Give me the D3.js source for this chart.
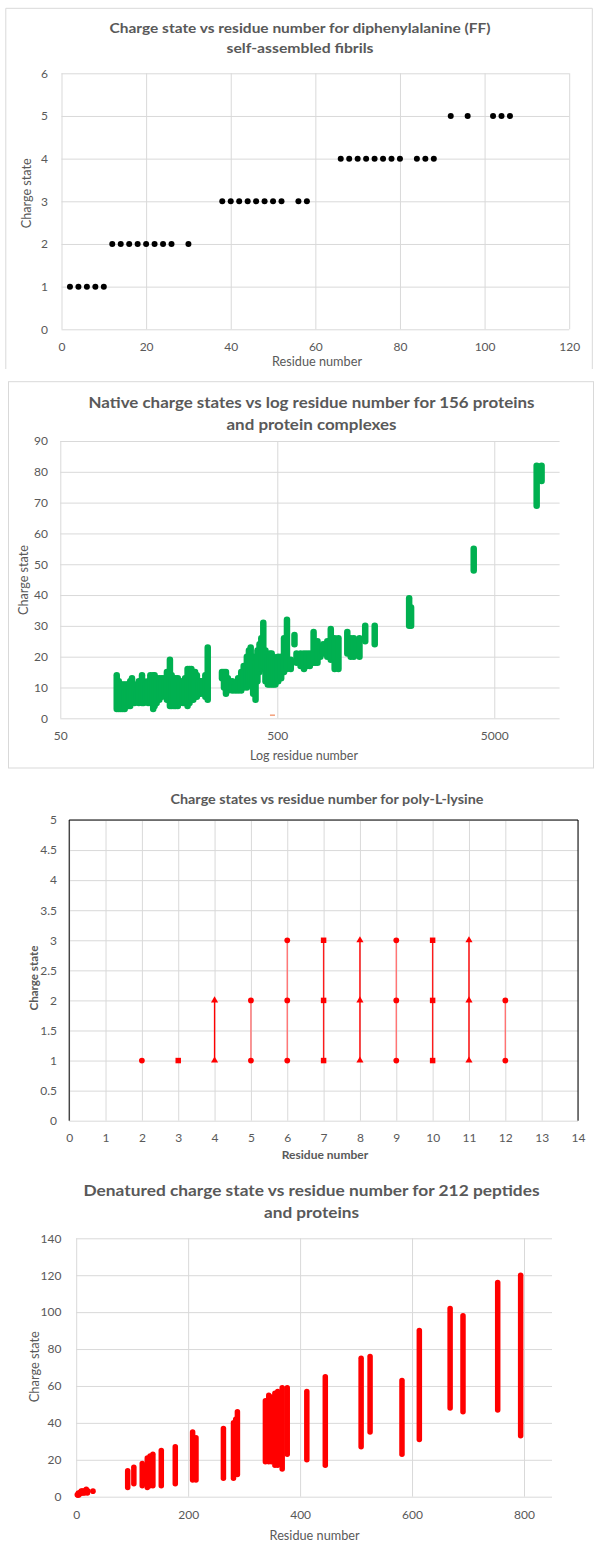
<!DOCTYPE html>
<html>
<head>
<meta charset="utf-8">
<script src="https://cdn.jsdelivr.net/npm/d3@7"></script>
<style>
  body { margin: 0; background: #fff; }
  svg { display: block; }
</style>
</head>
<body>
<svg id="chart" width="600" height="1551"></svg>
<script>
// ---- Diphenylalanine (FF) fibrils: residue number and charge state ----
const ffResidues = [2, 4, 6, 8, 10,
  12, 14, 16, 18, 20, 22, 24, 26, 30,
  38, 40, 42, 44, 46, 48, 50, 52, 56, 58,
  66, 68, 70, 72, 74, 76, 78, 80, 84, 86, 88,
  92, 96, 102, 104, 106];
const ffCharges = [1, 1, 1, 1, 1,
  2, 2, 2, 2, 2, 2, 2, 2, 2,
  3, 3, 3, 3, 3, 3, 3, 3, 3, 3,
  4, 4, 4, 4, 4, 4, 4, 4, 4, 4, 4,
  5, 5, 5, 5, 5];
const ffXTicks = [0, 20, 40, 60, 80, 100, 120];
const ffYTicks = [0, 1, 2, 3, 4, 5, 6];

// ---- Native proteins: residue number with lowest / highest observed charge ----
const natResidues = [91, 93, 95, 97, 99, 101, 103, 105, 107, 110, 112, 115, 119, 121, 124, 127,
  130, 134, 136, 139, 143, 147, 151, 155, 160, 163, 167, 170, 174, 178, 184, 188,
  193, 197, 201, 205, 209, 213, 218, 222, 227, 233, 239, 278, 284, 290, 296, 301, 310, 320,
  330, 341, 350, 362, 370, 377, 387, 397, 405, 414, 422, 431, 441, 452, 461, 471, 480,
  490, 505, 521, 537, 554, 577, 600, 613, 640, 664, 685, 706, 735, 750, 766, 790, 814, 850,
  882, 919, 957, 1051, 1090, 1126, 1196, 1271, 1406, 2026, 2068, 4020, 7840, 8260];
const natMin = [3, 3, 3, 3, 3, 4, 4, 4, 5, 5, 6, 5, 5, 5, 6, 5,
  5, 3, 4, 5, 6, 7, 8, 6, 4, 4, 4, 4, 4, 5, 5, 5,
  4, 5, 6, 6, 7, 7, 8, 8, 9, 7, 6, 13, 10, 8, 9, 10, 9, 9,
  9, 9, 10, 10, 11, 11, 8, 6, 12, 15, 16, 17, 12, 11, 11, 11, 11,
  11, 12, 13, 15, 16, 16, 24, 18, 17, 16, 17, 17, 18, 18, 18, 20, 21, 20,
  19, 16, 16, 21, 20, 20, 20, 25, 24, 30, 30, 48, 69, 77];
const natMax = [14, 12, 11, 11, 11, 11, 11, 12, 13, 11, 9, 12, 14, 12, 11, 12,
  14, 14, 14, 13, 13, 13, 13, 15, 19, 14, 12, 13, 13, 12, 12, 13,
  16, 16, 16, 15, 15, 14, 12, 12, 12, 14, 23, 15, 15, 15, 13, 12, 12, 11,
  13, 15, 17, 20, 22, 23, 20, 18, 22, 24, 26, 31, 22, 20, 21, 21, 20,
  19, 20, 20, 26, 32, 19, 27, 21, 21, 21, 21, 21, 28, 24, 25, 23, 24, 25,
  29, 26, 26, 28, 26, 26, 26, 30, 30, 39, 36, 55, 82, 82];
const natOtherResidues = [475];
const natOtherCharges = [1];
const natXTicks = [50, 500, 5000];
const natYTicks = [0, 10, 20, 30, 40, 50, 60, 70, 80, 90];

// ---- Poly-L-lysine: observed charge states for each chain length ----
const lysResidues = [2, 3, 4, 5, 6, 7, 8, 9, 10, 11, 12];
const lysCharges = [[1], [1], [1, 2], [1, 2], [1, 2, 3], [1, 2, 3], [1, 2, 3], [1, 2, 3], [1, 2, 3], [1, 2, 3], [1, 2]];
const lysMarkers = ["circle", "square", "triangle", "circle", "circle", "square", "triangle", "circle", "square", "triangle", "circle"];
const lysXTicks = [0, 1, 2, 3, 4, 5, 6, 7, 8, 9, 10, 11, 12, 13, 14];
const lysYTicks = [0, 0.5, 1, 1.5, 2, 2.5, 3, 3.5, 4, 4.5, 5];

// ---- Denatured peptides and proteins ----
const pepResidues = [2, 3, 4, 5, 6, 7, 8, 9, 10, 11, 12, 14, 15, 16, 18, 19, 20, 21, 30];
const pepCharges = [1, 1, 2, 1, 2, 2, 2, 3, 2, 3, 2, 3, 2, 3, 4, 3, 2, 3, 3];
const denResidues = [92, 103, 118, 127, 132, 137, 152, 177, 208, 214, 263, 281, 285, 288,
  338, 344, 349, 355, 360, 368, 377, 412, 445, 509, 525, 582, 613, 668, 691, 753, 794];
const denMin = [5, 7, 6, 5, 6, 6, 6, 7, 9, 9, 10, 10, 12, 12,
  19, 19, 19, 17, 17, 15, 23, 20, 17, 27, 35, 23, 31, 48, 46, 47, 33];
const denMax = [14, 16, 18, 21, 22, 23, 25, 27, 35, 32, 37, 40, 42, 46,
  52, 55, 54, 56, 57, 59, 59, 57, 65, 75, 76, 63, 90, 102, 98, 116, 120];
const denXTicks = [0, 200, 400, 600, 800];
const denYTicks = [0, 20, 40, 60, 80, 100, 120, 140];

// ---- shared styling ----
const FONT = "Lato, 'Open Sans', sans-serif";
const GRID = "#d9d9d9";
const TXT = "#595959";
const svg = d3.select("#chart");

function label(x, y, str, o = {}) {
  const t = svg.append("text")
    .attr("transform", o.rotate ? `translate(${x},${y}) rotate(-90)` : `translate(${x},${y})`)
    .attr("text-anchor", "middle")
    .attr("dy", "0.35em")
    .attr("font-family", FONT)
    .attr("font-size", o.size || 12)
    .attr("font-weight", o.weight || "normal")
    .attr("fill", o.color || TXT)
    .text(str);
  if (o.width) t.attr("textLength", o.width).attr("lengthAdjust", "spacingAndGlyphs");
  return t;
}

function gridAxes(x, y, box, xTicks, yTicks, o) {
  const w = box.right - box.left, h = box.bottom - box.top;
  const gx = svg.append("g")
    .attr("transform", `translate(0,${box.bottom})`)
    .call(d3.axisBottom(x).tickValues(xTicks).tickSize(-h).tickPadding(o.xPad).tickFormat(o.xFmt || (d => d)));
  const gy = svg.append("g")
    .attr("transform", `translate(${box.left},0)`)
    .call(d3.axisLeft(y).tickValues(yTicks).tickSize(-w).tickPadding(o.yPad).tickFormat(o.yFmt || (d => d)));
  [gx, gy].forEach(g => {
    g.select(".domain").remove();
    g.selectAll(".tick line").attr("stroke", GRID).attr("stroke-width", 1);
    g.selectAll(".tick text")
      .attr("fill", TXT)
      .attr("font-family", FONT)
      .attr("font-size", o.fs || 12);
  });
}

// ================= Chart 1: FF fibrils =================
{
  svg.append("path")
    .attr("d", "M5.8,369V8.3H592.3V369")
    .attr("fill", "none").attr("stroke", GRID);
  const box = { left: 61.5, right: 569.2, top: 73.3, bottom: 329.3 };
  const x = d3.scaleLinear().domain([0, 120]).range([box.left, box.right]);
  const y = d3.scaleLinear().domain([0, 6]).range([box.bottom, box.top]);
  gridAxes(x, y, box, ffXTicks, ffYTicks, { xPad: 13.5, yPad: 13.5, fs: 12 });
  svg.append("g").selectAll("circle")
    .data(ffResidues.map((r, i) => [r, ffCharges[i]]))
    .join("circle")
    .attr("cx", d => x(d[0])).attr("cy", d => y(d[1]))
    .attr("r", 3).attr("fill", "#000");
  label(300, 28.3, "Charge state vs residue number for diphenylalanine (FF)", { size: 14, weight: "bold", width: 381 });
  label(300, 48.3, "self-assembled fibrils", { size: 14, weight: "bold", width: 147 });
  label(317, 361.7, "Residue number", { size: 13, width: 90 });
  label(26, 193.3, "Charge state", { size: 13, rotate: true, width: 70 });
}

// ================= Chart 2: native charge states (log axis) =================
{
  svg.append("rect")
    .attr("x", 8.5).attr("y", 381.7).attr("width", 585).attr("height", 386.3)
    .attr("fill", "none").attr("stroke", GRID);
  const box = { left: 60.3, right: 559.6, top: 441, bottom: 718.3 };
  const x = d3.scaleLog().domain([50, 10000]).range([box.left, box.right]);
  const y = d3.scaleLinear().domain([0, 90]).range([box.bottom, box.top]);
  gridAxes(x, y, box, natXTicks, natYTicks, { xPad: 13.5, yPad: 12.3, fs: 12 });
  svg.append("g").selectAll("line")
    .data(natResidues.map((r, i) => [r, natMin[i], natMax[i]]))
    .join("line")
    .attr("x1", d => x(d[0])).attr("x2", d => x(d[0]))
    .attr("y1", d => y(d[1])).attr("y2", d => y(d[2]))
    .attr("stroke", "#00b050").attr("stroke-width", 6.5).attr("stroke-linecap", "round");
  svg.append("g").selectAll("rect")
    .data(natOtherResidues.map((r, i) => [r, natOtherCharges[i]]))
    .join("rect")
    .attr("x", d => x(d[0]) - 2.5).attr("y", d => y(d[1]) - 0.8)
    .attr("width", 5).attr("height", 1.6).attr("fill", "#f4a582");
  label(311.5, 402.7, "Native charge states vs log residue number for 156 proteins", { size: 15, weight: "bold", width: 446 });
  label(311.5, 425, "and protein complexes", { size: 15, weight: "bold", width: 170 });
  label(304, 755, "Log residue number", { size: 13, width: 108 });
  label(23, 580, "Charge state", { size: 13, rotate: true, width: 70 });
}

// ================= Chart 3: poly-L-lysine =================
{
  const box = { left: 69.2, right: 578, top: 820, bottom: 1120.7 };
  const x = d3.scaleLinear().domain([0, 14]).range([box.left, box.right]);
  const y = d3.scaleLinear().domain([0, 5]).range([box.bottom, box.top]);
  gridAxes(x, y, box, lysXTicks, lysYTicks, { xPad: 12.4, yPad: 12.2, fs: 12 });
  svg.append("path")
    .attr("d", `M${box.left},${box.bottom}V${box.top}H${box.right}V${box.bottom}`)
    .attr("fill", "none").attr("stroke", "#000").attr("stroke-width", 1);
  const lineColour = { circle: "#ff7373", square: "#ff1a1a", triangle: "#ff0000" };
  const symbolType = { circle: d3.symbolCircle, square: d3.symbolSquare, triangle: d3.symbolTriangle };
  const symbolSize = { circle: 26, square: 30, triangle: 22 };
  const rows = lysResidues.map((r, i) => ({ r, charges: lysCharges[i], shape: lysMarkers[i] }));
  svg.append("g").selectAll("line")
    .data(rows.filter(d => d.charges.length > 1))
    .join("line")
    .attr("x1", d => x(d.r)).attr("x2", d => x(d.r))
    .attr("y1", d => y(d3.min(d.charges))).attr("y2", d => y(d3.max(d.charges)))
    .attr("stroke", d => lineColour[d.shape]).attr("stroke-width", 1.4);
  svg.append("g").selectAll("path")
    .data(rows.flatMap(d => d.charges.map(c => ({ r: d.r, c, shape: d.shape }))))
    .join("path")
    .attr("transform", d => `translate(${x(d.r)},${y(d.c)})`)
    .attr("d", d => d3.symbol(symbolType[d.shape], symbolSize[d.shape])())
    .attr("fill", "#ff0000");
  label(327, 799, "Charge states vs residue number for poly-L-lysine", { size: 13, weight: "bold", width: 313 });
  label(325, 1154.3, "Residue number", { size: 12, weight: "bold", width: 86.5 });
  label(34, 978, "Charge state", { size: 12, weight: "bold", rotate: true, width: 65 });
}

// ================= Chart 4: denatured peptides and proteins =================
{
  const box = { left: 76.2, right: 552, top: 1238.3, bottom: 1496.7 };
  const x = d3.scaleLinear().domain([0, 850]).range([box.left, box.right]);
  const y = d3.scaleLinear().domain([0, 140]).range([box.bottom, box.top]);
  gridAxes(x, y, box, denXTicks, denYTicks, { xPad: 14.1, yPad: 14.7, fs: 12 });
  svg.append("g").selectAll("line")
    .data(denResidues.map((r, i) => [r, denMin[i], denMax[i]]))
    .join("line")
    .attr("x1", d => x(d[0])).attr("x2", d => x(d[0]))
    .attr("y1", d => y(d[1])).attr("y2", d => y(d[2]))
    .attr("stroke", "#ff0000").attr("stroke-width", 5.5).attr("stroke-linecap", "round");
  svg.append("g").selectAll("circle")
    .data(pepResidues.map((r, i) => [r, pepCharges[i]]))
    .join("circle")
    .attr("cx", d => x(d[0])).attr("cy", d => y(d[1]))
    .attr("r", 2.8).attr("fill", "#ff0000");
  label(311.5, 1190, "Denatured charge state vs residue number for 212 peptides", { size: 16, weight: "bold", width: 456 });
  label(311.5, 1212.3, "and proteins", { size: 16, weight: "bold", width: 95 });
  label(314.6, 1535, "Residue number", { size: 13, width: 90 });
  label(34.6, 1366.7, "Charge state", { size: 13, rotate: true, width: 71 });
}
</script>
</body>
</html>
